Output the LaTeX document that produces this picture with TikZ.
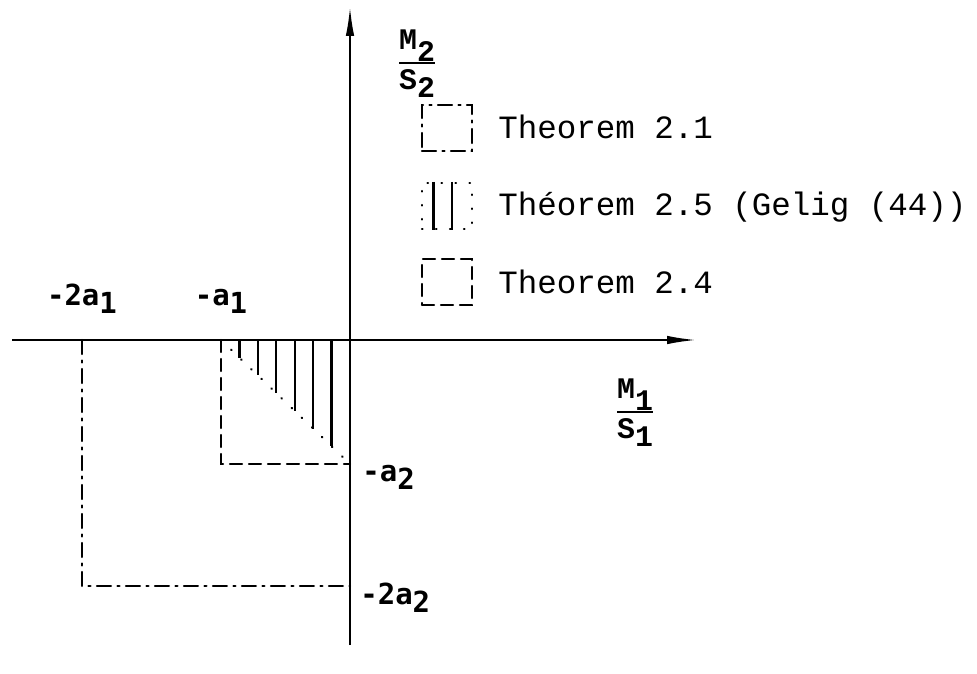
\documentclass[tikz,border=0pt]{standalone}
\usepackage{fontspec}
\setmonofont{Liberation Mono}
\newfontfamily\ticklabelfont{DejaVu Sans Mono}
\usepackage{tikz}
\usetikzlibrary{arrows.meta,positioning,calc}
\newcommand{\idx}[1]{\raisebox{-0.55ex}{#1}}
\newcommand{\fracidx}[1]{\raisebox{-0.8ex}{#1}}

\begin{document}
\begin{tikzpicture}[
  x=0.02cm, y=-0.02cm,
  axis/.style={line width=1.3pt,-{Latex[length=0.6cm,width=0.17cm]}},
  bound/.style={line width=1.3pt,line cap=round},
  thmone/.style={bound,dash pattern=on 0.28cm off 0.13cm on 0.04cm off 0.13cm},
  thmfour/.style={bound,dash pattern=on 0.24cm off 0.14cm},
  thmfive/.style={bound,dash pattern=on 0.01cm off 0.27cm},
  hatch/.style={line width=1.3pt},
  keybox/.style={draw,minimum width=1cm,minimum height=0.92cm,inner sep=0pt},
  leg/.style={font=\fontsize{18.5}{22}\selectfont\ttfamily,inner sep=0pt},
  tick/.style={font=\fontsize{16.5}{19}\selectfont\ticklabelfont\bfseries,inner sep=0pt},
  frac/.style={font=\fontsize{17}{20}\selectfont\ttfamily\bfseries,inner sep=0pt}
]
\useasboundingbox (0,0) rectangle (977,673);

\coordinate (O) at (350,340);
\coordinate (xs) at (12,340);
\coordinate (xe) at (697,340);
\coordinate (ys) at (350,645);
\coordinate (ye) at (350,6);
\coordinate (a1) at (221,340);
\coordinate (aa1) at (82,340);
\coordinate (a2) at (350,464);
\coordinate (aa2) at (350,586);
\coordinate (c4) at (221,464);
\coordinate (c1) at (82,586);

\draw[axis] (xs) -- (xe);
\draw[axis] (ys) -- (ye);

\draw[thmone] (aa1) -- (c1) -- (aa2);
\draw[thmfour] (a1) -- (c4) -- (a2);
\draw[thmfive] (a1) -- (a2);
\foreach \i in {1,...,6}
  \draw[hatch] ($(a1)!\i/7!(O)$) -- ($(a1)!\i/7!(a2)$);

\node[tick, anchor=base] (laa1) at (82,305) {-2a\idx{1}};
\node[tick, anchor=base] (la1) at (221,305) {-a\idx{1}};
\node[tick, anchor=base west] (la2) at (362,481) {-a\idx{2}};
\node[tick, anchor=base west] (laa2) at (360,604) {-2a\idx{2}};

\node[frac] (fx) at (635,411)
  {\setlength{\arrayrulewidth}{1.6pt}\begin{tabular}{@{}c@{}}M\fracidx{1}\\[1pt]\hline S\idx{1}\end{tabular}};
\node[frac] (fy) at (417,62)
  {\setlength{\arrayrulewidth}{1.6pt}\begin{tabular}{@{}c@{}}M\fracidx{2}\\[1pt]\hline S\idx{2}\end{tabular}};

\node[keybox, thmone] (k1) at (447,128) {};
\node[keybox, thmfive] (k5) at (447,206) {};
\node[keybox, thmfour] (k4) at (447,282) {};
\draw[hatch] ($(k5.north west)!0.24!(k5.north east)$) -- ($(k5.south west)!0.24!(k5.south east)$);
\draw[hatch] ($(k5.north west)!0.6!(k5.north east)$) -- ($(k5.south west)!0.6!(k5.south east)$);

\node[leg, anchor=base west] (t1) at (498,138) {Theorem 2.1};
\node[leg, anchor=base west] (t5) at (498,215) {Théorem 2.5 (Gelig (44))};
\node[leg, anchor=base west] (t4) at (498,293) {Theorem 2.4};
\end{tikzpicture}
\end{document}
